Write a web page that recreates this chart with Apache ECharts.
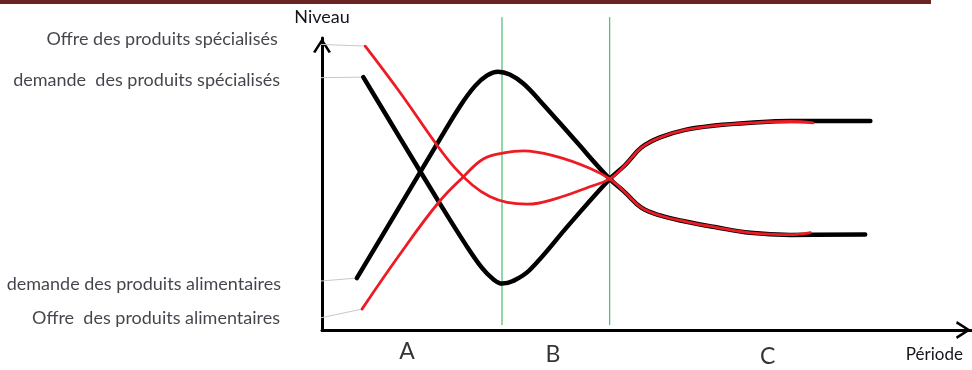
<!DOCTYPE html>
<html>
<head>
<meta charset="utf-8">
<script src="https://cdn.jsdelivr.net/npm/echarts@6.0.0/dist/echarts.min.js"></script>
<style>
  html, body { margin: 0; padding: 0; background: #fff; }
  #chart { width: 972px; height: 370px; }
</style>
</head>
<body>
<div id="chart"></div>
<script>
// axes: x = période (0 - 100), y = niveau (0 - 100)
const demandeSpecialises = [
  [6.4, 87.2], [12.1, 66.2], [18.3, 43.5], [22.2, 29.7], [24.8, 21.4], [26.5, 17.6],
  [27.9, 16.0], [29.6, 16.9], [32.2, 20.7], [38.4, 36.6], [44.6, 52.1],
  [47.0, 56.9], [49.5, 62.9], [52.4, 66.4], [56.3, 69.0], [60.9, 70.5], [66.4, 71.5], [72.6, 72.1], [85.0, 72.1]
]
const demandeAlimentaires = [
  [5.4, 17.9], [12.1, 42.8], [18.3, 65.9], [21.4, 77.2], [23.7, 84.1], [25.6, 87.8],
  [27.3, 89.1], [29.1, 88.1], [31.2, 85.0], [33.8, 79.0], [39.2, 65.5], [44.6, 52.1],
  [47.0, 47.4], [49.5, 42.2], [52.4, 39.5], [56.3, 37.4], [60.9, 35.5], [66.4, 33.5], [72.6, 32.8], [84.2, 32.9]
]
const offreSpecialises = [
  [6.7, 97.9], [12.1, 81.9], [17.8, 63.8], [20.6, 55.9], [23.3, 50.0], [26.0, 46.0],
  [28.7, 44.0], [31.8, 43.4], [36.4, 45.4], [41.5, 49.4], [44.6, 52.1],
  [47.0, 56.9], [49.5, 62.9], [52.4, 66.4], [56.3, 69.0], [60.9, 70.5], [66.4, 71.4], [72.6, 71.9], [76.1, 71.4]
]
const offreAlimentaires = [
  [6.2, 7.2], [12.1, 26.2], [18.0, 43.8], [21.9, 52.8], [25.0, 59.0], [28.4, 61.2],
  [31.2, 61.8], [36.4, 59.8], [41.5, 55.8], [44.6, 52.1],
  [47.0, 47.4], [49.5, 42.2], [52.4, 39.5], [56.3, 37.4], [60.9, 35.5], [66.4, 33.5], [72.6, 32.9], [75.7, 33.6]
]

// labels on the left, with the start of their leader line
const curveNames = [
  'Offre des produits spécialisés',
  'demande  des produits spécialisés',
  'demande des produits alimentaires',
  'Offre  des produits alimentaires'
]
const leaderStart = [[-5.0, 98.9], [-4.65, 86.9], [-4.5, 16.1], [-4.65, 2.1]]
const curves = [offreSpecialises, demandeSpecialises, demandeAlimentaires, offreAlimentaires]

// limits between the periods
const periodBounds = [27.9, 44.6]
const boundBottom = 1.7
const boundTop = 107.9

// period names under the x axis
const periodNames = ['A', 'B', 'C']
const periodX = [13.2, 35.8, 69.1]
const periodY = [-7.6, -8.6, -9.3]

const FONT = 'Lato'
const TEXT = '#14141e'
const arrow = 'path://M0,14 L9,0 L18,14 L15.6,15 L9,4.6 L2.4,15 Z'
const labelDy = [-4, 2, 1, -6]

const chart = echarts.init(document.getElementById('chart'))

const series = []

// vertical green lines
periodBounds.forEach(x => {
  series.push({
    type: 'line',
    data: [[x, boundBottom], [x, boundTop]],
    symbol: 'none',
    clip: false,
    silent: true,
    lineStyle: { color: '#22b14c', width: 1 }
  })
})

// grey leader lines
curveNames.forEach((name, i) => {
  series.push({
    type: 'line',
    data: [leaderStart[i], curves[i][0]],
    symbol: 'none',
    clip: false,
    silent: true,
    lineStyle: { color: '#c8c8c8', width: 1 }
  })
})

// texts of the leaders
series.push({
  type: 'scatter',
  symbolSize: 0,
  clip: false,
  silent: true,
  data: curveNames.map((n, i) => ({ name: n, value: leaderStart[i], label: { offset: [0, labelDy[i]] } })),
  label: {
    show: true,
    position: 'left',
    distance: 12,
    formatter: p => p.name,
    color: TEXT,
    fontFamily: FONT,
    fontSize: 18
  }
})

const colors = ['#ed1c24', '#000', '#000', '#ed1c24']
const widths = [2.8, 4.5, 4.5, 2.8]
// black first, red on top
;[1, 2, 0, 3].forEach(i => {
  series.push({
    name: curveNames[i],
    type: 'line',
    data: curves[i],
    smooth: 0.4,
    symbol: 'none',
    clip: false,
    lineStyle: { color: colors[i], width: widths[i], cap: 'round', join: 'round' }
  })
})

series.push({
  type: 'scatter',
  symbolSize: 0,
  clip: false,
  silent: true,
  data: periodNames.map((n, i) => ({ name: n, value: [periodX[i], periodY[i]] })),
  label: {
    show: true,
    position: 'inside',
    formatter: p => p.name,
    color: '#000',
    fontFamily: FONT,
    fontSize: 23
  }
})

const option = {
  animation: false,
  grid: { left: 322, right: 1, top: 38, bottom: 40 },
  graphic: [
    { type: 'rect', left: 0, top: 0, shape: { width: 931, height: 4 }, style: { fill: '#6b2424' } }
  ],
  xAxis: {
    type: 'value',
    min: 0,
    max: 100.6,
    name: 'Période',
    nameLocation: 'end',
    nameGap: -8,
    nameTextStyle: { align: 'right', verticalAlign: 'top', padding: [16, 0, 0, 0], fontFamily: FONT, fontSize: 17, color: TEXT },
    axisLine: { lineStyle: { color: '#000', width: 3 }, symbol: ['none', arrow], symbolSize: [18, 15], symbolOffset: [0, -7.5] },
    axisTick: { show: false },
    axisLabel: { show: false },
    splitLine: { show: false }
  },
  yAxis: {
    type: 'value',
    min: 0,
    max: 100.7,
    name: 'Niveau',
    nameLocation: 'end',
    nameGap: 12,
    nameTextStyle: { fontFamily: FONT, fontSize: 18, color: TEXT },
    axisLine: { lineStyle: { color: '#000', width: 3 }, symbol: ['none', arrow], symbolSize: [18, 15], symbolOffset: [0, -7.5] },
    axisTick: { show: false },
    axisLabel: { show: false },
    splitLine: { show: false }
  },
  series: series
}

chart.setOption(option)
</script>
</body>
</html>
